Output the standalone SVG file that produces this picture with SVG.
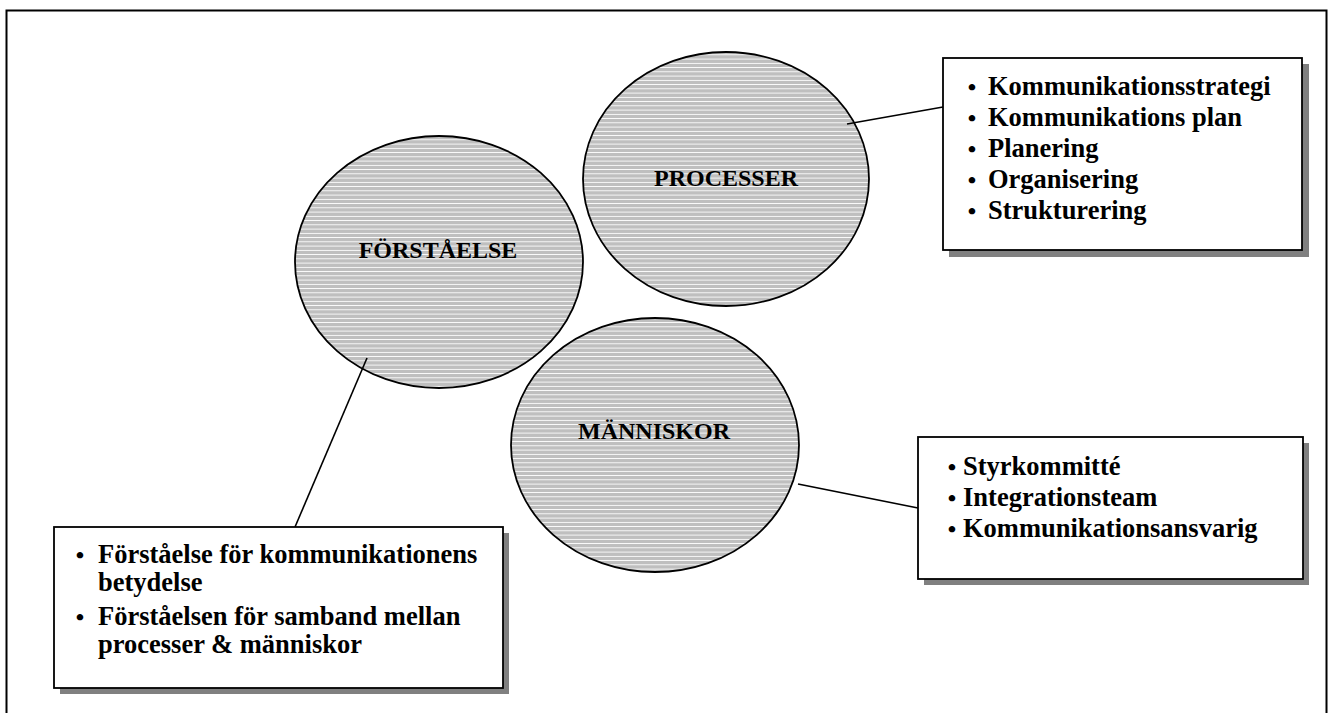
<svg xmlns="http://www.w3.org/2000/svg" width="1329" height="713" viewBox="0 0 1329 713">
<defs>
<pattern id="stripes" patternUnits="userSpaceOnUse" width="8" height="4.25">
<rect x="0" y="0" width="8" height="4.25" fill="#bfbfbf" shape-rendering="crispEdges"/>
<rect x="0" y="3" width="8" height="1.2" fill="#ffffff" shape-rendering="crispEdges"/>
</pattern>
<style>
.circ{fill:url(#stripes);stroke:#000;stroke-width:1.8}
.box{fill:#fff;stroke:#000;stroke-width:1.8}
.shadow{fill:#808080}
.lbl{font-family:"Liberation Serif","Times New Roman",serif;font-weight:bold;font-size:24px;fill:#000;text-anchor:middle}
.li{font-family:"Liberation Serif","Times New Roman",serif;font-weight:bold;font-size:26.5px;fill:#000}
.bul{font-family:"Liberation Serif","Times New Roman",serif;font-weight:bold;font-size:24px;fill:#000;text-anchor:middle}
.conn{stroke:#000;stroke-width:1.6;fill:none}
</style>
</defs>
<rect width="1329" height="713" fill="#fff"/>
<rect x="6.5" y="10.5" width="1320" height="720" fill="none" stroke="#000" stroke-width="2"/>

<g id="node-processer">
<ellipse class="circ" cx="726" cy="179" rx="143" ry="127"/>
<text class="lbl" x="726" y="186">PROCESSER</text>
</g>
<g id="node-forstaelse">
<ellipse class="circ" cx="439" cy="262" rx="144" ry="126"/>
<text class="lbl" x="438" y="258">FÖRSTÅELSE</text>
</g>
<g id="node-manniskor">
<ellipse class="circ" cx="655" cy="445" rx="144" ry="127"/>
<text class="lbl" x="654" y="439">MÄNNISKOR</text>
</g>

<g id="connectors">
<line class="conn" x1="847" y1="124" x2="943" y2="107"/>
<line class="conn" x1="798" y1="484" x2="918" y2="508"/>
<line class="conn" x1="367" y1="358" x2="295" y2="527"/>
</g>

<g id="box-processer">
<rect class="shadow" x="949" y="64" width="360" height="193"/>
<rect class="box" x="943" y="58" width="359" height="192"/>
<text class="bul" x="972" y="95">•</text><text class="li" x="988" y="95">Kommunikationsstrategi</text>
<text class="bul" x="972" y="126">•</text><text class="li" x="988" y="126">Kommunikations plan</text>
<text class="bul" x="972" y="157">•</text><text class="li" x="988" y="157">Planering</text>
<text class="bul" x="972" y="188">•</text><text class="li" x="988" y="188">Organisering</text>
<text class="bul" x="972" y="219">•</text><text class="li" x="988" y="219">Strukturering</text>
</g>

<g id="box-manniskor">
<rect class="shadow" x="924" y="443" width="385" height="142"/>
<rect class="box" x="918" y="437" width="385" height="142"/>
<text class="bul" x="952" y="475">•</text><text class="li" x="963" y="475">Styrkommitté</text>
<text class="bul" x="952" y="506">•</text><text class="li" x="963" y="506">Integrationsteam</text>
<text class="bul" x="952" y="537">•</text><text class="li" x="963" y="537">Kommunikationsansvarig</text>
</g>

<g id="box-forstaelse">
<rect class="shadow" x="60" y="533" width="449" height="161"/>
<rect class="box" x="54" y="527" width="449" height="161"/>
<text class="bul" x="80" y="563">•</text><text class="li" x="98" y="563">Förståelse för kommunikationens</text>
<text class="li" x="98" y="591">betydelse</text>
<text class="bul" x="80" y="625">•</text><text class="li" x="98" y="625">Förståelsen för samband mellan</text>
<text class="li" x="98" y="653">processer &amp; människor</text>
</g>
</svg>
